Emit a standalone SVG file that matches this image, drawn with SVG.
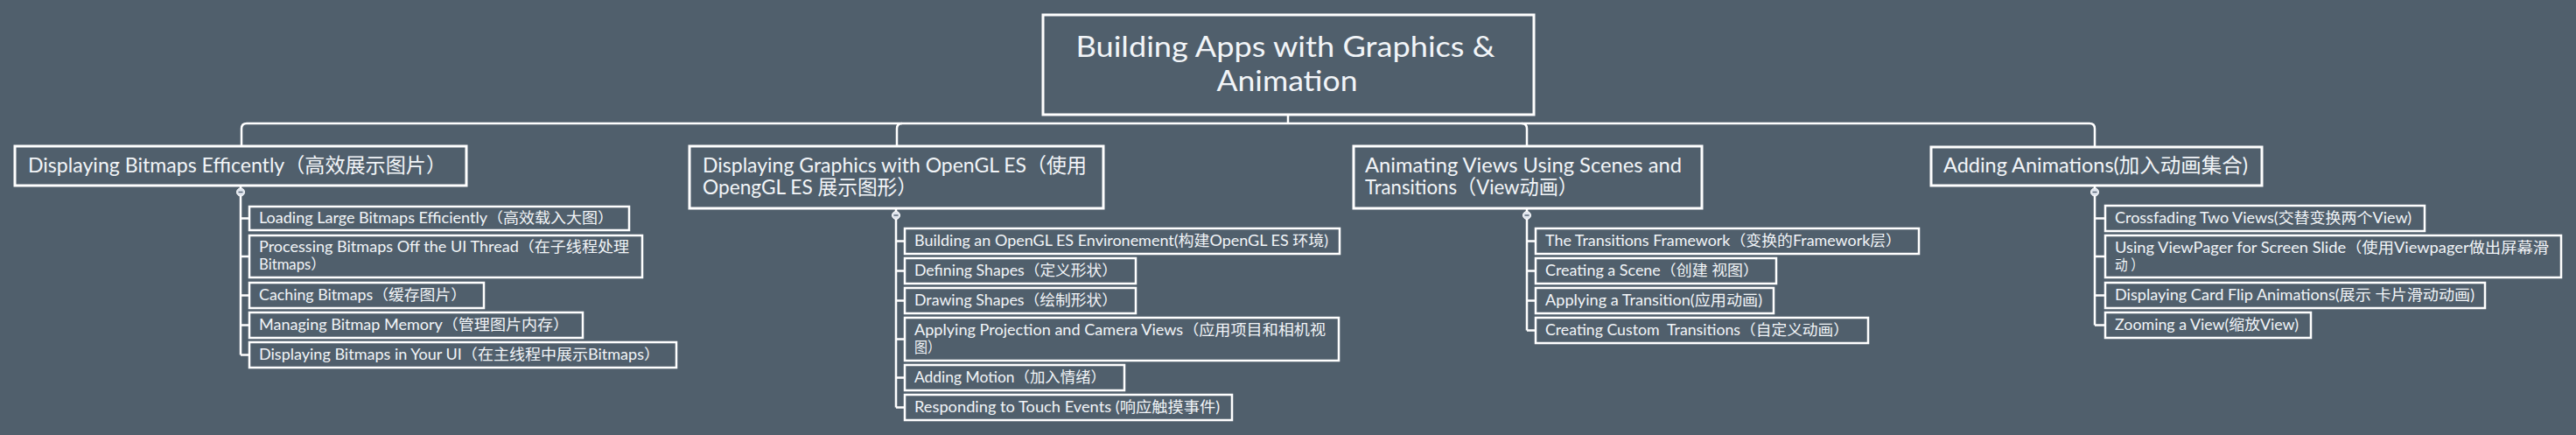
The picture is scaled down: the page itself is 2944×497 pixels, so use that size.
<svg xmlns="http://www.w3.org/2000/svg" width="2944" height="497" viewBox="0 0 2944 497">
<style>
.box{fill:#505f6c;stroke:#ffffff;stroke-width:3}
.cbox{fill:#505f6c;stroke:#ffffff;stroke-width:2.5}
.conn{fill:none;stroke:#ffffff;stroke-width:2.5}
text{font-family:"Lato","Noto Sans CJK SC",sans-serif;fill:#f2f5f8}
.tr{font-size:32px;text-anchor:middle}
.tm{font-size:23px}
.tc{font-size:16.5px}
.knob{fill:#dfe5ee;stroke:#ffffff;stroke-width:1}
.minus{stroke:#5a6878;stroke-width:1.5}
</style>
<rect x="0" y="0" width="2944" height="497" fill="#505f6c"/>
<g id="connectors">
<path class="conn" d="M1472,131 V141"/>
<path class="conn" d="M1472,141 H282 Q276,141 276,147 V167"/>
<path class="conn" d="M1472,141 H2388 Q2394,141 2394,147 V167"/>
<path class="conn" d="M1031,141 Q1025,141 1025,147 V167"/>
<path class="conn" d="M1739,141 Q1745,141 1745,147 V167"/>
<path class="conn" d="M275,212 V405.5 M275,249.5 H285 M275,293 H285 M275,337.5 H285 M275,371.5 H285 M275,405.5 H285"/>
<path class="conn" d="M1024,238 V465.5 M1024,275.5 H1034 M1024,309.5 H1034 M1024,343.5 H1034 M1024,387.5 H1034 M1024,431.5 H1034 M1024,465.5 H1034"/>
<path class="conn" d="M1745,238 V377.5 M1745,275.5 H1755 M1745,309.5 H1755 M1745,343.5 H1755 M1745,377.5 H1755"/>
<path class="conn" d="M2394,212 V371.5 M2394,249.5 H2406 M2394,293 H2406 M2394,337.5 H2406 M2394,371.5 H2406"/>
<circle class="knob" cx="275" cy="219.5" r="4.5"/><path class="minus" d="M272.5,219.5 H277.5"/>
<circle class="knob" cx="1024" cy="246" r="4.5"/><path class="minus" d="M1021.5,246 H1026.5"/>
<circle class="knob" cx="1745" cy="246" r="4.5"/><path class="minus" d="M1742.5,246 H1747.5"/>
<circle class="knob" cx="2394" cy="219.5" r="4.5"/><path class="minus" d="M2391.5,219.5 H2396.5"/>
</g>
<g id="root">
<rect class="box" x="1192" y="17" width="561" height="114"/>
<text class="tr" x="1469" y="65" textLength="479" lengthAdjust="spacingAndGlyphs">Building Apps with Graphics &amp;</text>
<text class="tr" x="1471" y="104" textLength="161" lengthAdjust="spacingAndGlyphs">Animation</text>
</g>
<g id="b1">
<rect class="box" x="17" y="167" width="516" height="45"/>
<text class="tm" x="32" y="197" textLength="478" lengthAdjust="spacingAndGlyphs">Displaying Bitmaps Efficently（高效展示图片）</text>
</g>
<g id="b1c1"><rect class="cbox" x="285" y="236" width="434" height="27"/><text class="tc" x="296" y="255" textLength="405" lengthAdjust="spacingAndGlyphs">Loading Large Bitmaps Efficiently（高效载入大图）</text></g>
<g id="b1c2"><rect class="cbox" x="285" y="269" width="449" height="48"/><text class="tc" x="296" y="288" textLength="423" lengthAdjust="spacingAndGlyphs">Processing Bitmaps Off the UI Thread（在子线程处理</text><text class="tc" x="296" y="308" textLength="76" lengthAdjust="spacingAndGlyphs">Bitmaps）</text></g>
<g id="b1c3"><rect class="cbox" x="285" y="323" width="268" height="29"/><text class="tc" x="296" y="343" textLength="237" lengthAdjust="spacingAndGlyphs">Caching Bitmaps（缓存图片）</text></g>
<g id="b1c4"><rect class="cbox" x="285" y="357" width="381" height="29"/><text class="tc" x="296" y="377" textLength="354" lengthAdjust="spacingAndGlyphs">Managing Bitmap Memory（管理图片内存）</text></g>
<g id="b1c5"><rect class="cbox" x="285" y="391" width="488" height="29"/><text class="tc" x="296" y="411" textLength="458" lengthAdjust="spacingAndGlyphs">Displaying Bitmaps in Your UI（在主线程中展示Bitmaps）</text></g>
<g id="b2">
<rect class="box" x="788" y="167" width="473" height="71"/>
<text class="tm" x="803" y="197" textLength="439" lengthAdjust="spacingAndGlyphs">Displaying Graphics with OpenGL ES（使用</text>
<text class="tm" x="803" y="222" textLength="245" lengthAdjust="spacingAndGlyphs">OpengGL ES 展示图形）</text>
</g>
<g id="b2c1"><rect class="cbox" x="1034" y="261" width="497" height="29"/><text class="tc" x="1045" y="281" textLength="473" lengthAdjust="spacingAndGlyphs">Building an OpenGL ES Environement(构建OpenGL ES 环境)</text></g>
<g id="b2c2"><rect class="cbox" x="1034" y="295" width="264" height="29"/><text class="tc" x="1045" y="315" textLength="232" lengthAdjust="spacingAndGlyphs">Defining Shapes（定义形状）</text></g>
<g id="b2c3"><rect class="cbox" x="1034" y="329" width="264" height="29"/><text class="tc" x="1045" y="349" textLength="232" lengthAdjust="spacingAndGlyphs">Drawing Shapes（绘制形状）</text></g>
<g id="b2c4"><rect class="cbox" x="1034" y="363" width="496" height="49"/><text class="tc" x="1045" y="383" textLength="470" lengthAdjust="spacingAndGlyphs">Applying Projection and Camera Views（应用项目和相机视</text><text class="tc" x="1045" y="403" textLength="30" lengthAdjust="spacingAndGlyphs">图）</text></g>
<g id="b2c5"><rect class="cbox" x="1034" y="417" width="251" height="29"/><text class="tc" x="1045" y="437" textLength="219" lengthAdjust="spacingAndGlyphs">Adding Motion（加入情绪）</text></g>
<g id="b2c6"><rect class="cbox" x="1034" y="451" width="374" height="29"/><text class="tc" x="1045" y="471" textLength="349" lengthAdjust="spacingAndGlyphs">Responding to Touch Events (响应触摸事件)</text></g>
<g id="b3">
<rect class="box" x="1547" y="167" width="398" height="71"/>
<text class="tm" x="1560" y="197" textLength="362" lengthAdjust="spacingAndGlyphs">Animating Views Using Scenes and</text>
<text class="tm" x="1560" y="222" textLength="243" lengthAdjust="spacingAndGlyphs">Transitions（View动画）</text>
</g>
<g id="b3c1"><rect class="cbox" x="1755" y="261" width="438" height="29"/><text class="tc" x="1766" y="281" textLength="407" lengthAdjust="spacingAndGlyphs">The Transitions Framework（变换的Framework层）</text></g>
<g id="b3c2"><rect class="cbox" x="1755" y="295" width="275" height="29"/><text class="tc" x="1766" y="315" textLength="244" lengthAdjust="spacingAndGlyphs">Creating a Scene（创建 视图）</text></g>
<g id="b3c3"><rect class="cbox" x="1755" y="329" width="272" height="29"/><text class="tc" x="1766" y="349" textLength="248" lengthAdjust="spacingAndGlyphs">Applying a Transition(应用动画)</text></g>
<g id="b3c4"><rect class="cbox" x="1755" y="363" width="380" height="29"/><text class="tc" x="1766" y="383" textLength="347" lengthAdjust="spacingAndGlyphs" xml:space="preserve">Creating Custom  Transitions（自定义动画）</text></g>
<g id="b4">
<rect class="box" x="2207" y="168" width="378" height="44"/>
<text class="tm" x="2221" y="197" textLength="348" lengthAdjust="spacingAndGlyphs">Adding Animations(加入动画集合)</text>
</g>
<g id="b4c1"><rect class="cbox" x="2406" y="235" width="365" height="29"/><text class="tc" x="2417" y="255" textLength="339" lengthAdjust="spacingAndGlyphs">Crossfading Two Views(交替变换两个View)</text></g>
<g id="b4c2"><rect class="cbox" x="2406" y="269" width="521" height="48"/><text class="tc" x="2417" y="289" textLength="496" lengthAdjust="spacingAndGlyphs">Using ViewPager for Screen Slide（使用Viewpager做出屏幕滑</text><text class="tc" x="2417" y="309" textLength="33" lengthAdjust="spacingAndGlyphs">动 ）</text></g>
<g id="b4c3"><rect class="cbox" x="2406" y="323" width="434" height="29"/><text class="tc" x="2417" y="343" textLength="411" lengthAdjust="spacingAndGlyphs">Displaying Card Flip Animations(展示 卡片滑动动画)</text></g>
<g id="b4c4"><rect class="cbox" x="2406" y="357" width="235" height="29"/><text class="tc" x="2417" y="377" textLength="210" lengthAdjust="spacingAndGlyphs">Zooming a View(缩放View)</text></g>
</svg>
